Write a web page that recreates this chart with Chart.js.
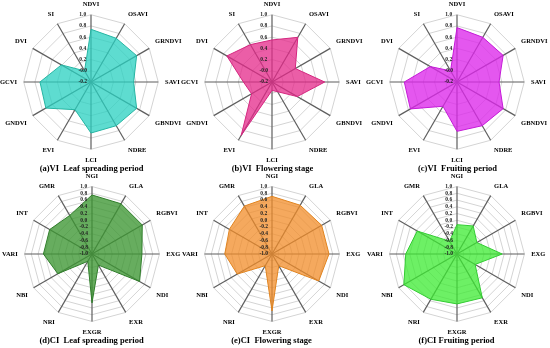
<!DOCTYPE html>
<html>
<head>
<meta charset="utf-8">
<script src="https://cdn.jsdelivr.net/npm/chart.js@4.4.0/dist/chart.umd.min.js"></script>
<style>
  html, body { margin: 0; padding: 0; background: #fff; }
  #wrap { position: relative; width: 550px; height: 348px; overflow: hidden; }
  .cell { position: absolute; width: 183px; height: 174px; }
</style>
</head>
<body>
<div id="wrap">
  <div class="cell" style="left:0px;top:0px"><canvas id="c1"></canvas></div>
  <div class="cell" style="left:181px;top:0px"><canvas id="c2"></canvas></div>
  <div class="cell" style="left:366px;top:0px"><canvas id="c3"></canvas></div>
  <div class="cell" style="left:0px;top:172px"><canvas id="c4"></canvas></div>
  <div class="cell" style="left:180px;top:172px"><canvas id="c5"></canvas></div>
  <div class="cell" style="left:365px;top:172px"><canvas id="c6"></canvas></div>
</div>
<script>
// axis names (clockwise from top)
const viLabels = ['NDVI', 'OSAVI', 'GRNDVI', 'SAVI', 'GBNDVI', 'NDRE', 'LCI', 'EVI', 'GNDVI', 'GCVI', 'DVI', 'SI'];
const ciLabels = ['NGI', 'GLA', 'RGBVI', 'EXG', 'NDI', 'EXR', 'EXGR', 'NRI', 'NBI', 'VARI', 'INT', 'GMR'];

// tick range
const viTickRange = [-0.2, 1.0];
const ciTickRange = [-1.0, 1.0];
const tickStep = 0.2;

// values
const viLeafSpreading = [0.74, 0.70, 0.74, 0.56, 0.74, 0.70, 0.71, 0.37, 0.73, 0.71, 0.41, 0.03];
const viFlowering     = [0.55, 0.72, 0.28, 0.74, 0.32, 0.00, -0.05, 0.90, 0.22, 0.31, 0.73, 0.57];
const viFruiting      = [0.77, 0.72, 0.75, 0.55, 0.75, 0.70, 0.68, 0.30, 0.76, 0.74, 0.35, 0.03];
const ciLeafSpreading = [0.75, 0.72, 0.72, 0.48, 0.63, -0.62, 0.45, -0.75, 0.17, 0.44, 0.45, 0.32];
const ciFlowering     = [0.71, 0.67, 0.70, 0.69, 0.60, -0.60, 0.69, -0.60, 0.19, 0.40, 0.46, 0.64];
const ciFruiting      = [-0.13, -0.04, -0.32, 0.34, -0.38, 0.50, 0.48, 0.55, 0.82, 0.52, 0.36, -0.56];

const serif = "'Times New Roman', 'Liberation Serif', serif";

// Bikin satu radar chart
function makeRadar(id, labels, values, range, title, border, fill) {
    const ctx = document.getElementById(id).getContext('2d');
    return new Chart(ctx, {
        type: 'radar',
        data: {
            labels: labels,
            datasets: [{
                data: values,
                borderColor: border,
                backgroundColor: fill,
                borderWidth: 1,
                pointRadius: 0,
                fill: 'start'
            }]
        },
        options: {
            responsive: false,
            animation: false,
            devicePixelRatio: 1,
            layout: { padding: 0 },
            plugins: {
                legend: { display: false },
                tooltip: { enabled: false },
                title: {
                    display: true,
                    position: 'bottom',
                    text: title,
                    color: '#000',
                    font: { family: serif, size: 8.5, weight: 'bold', lineHeight: 1.0 },
                    padding: { top: 0, bottom: 1 }
                }
            },
            scales: {
                r: {
                    min: range[0],
                    max: range[1],
                    ticks: {
                        stepSize: tickStep,
                        z: 1,
                        showLabelBackdrop: false,
                        backdropPadding: 0,
                        color: '#222',
                        font: { family: serif, size: 5.5, weight: 'bold', lineHeight: 1.0 },
                        callback: v => v.toFixed(1) + '\u2003\u2003\u2003'
                    },
                    grid: { color: '#d4d4d4', lineWidth: 1 },
                    angleLines: { color: '#5e5e5e', lineWidth: 1.2 },
                    pointLabels: {
                        color: '#000',
                        padding: 4,
                        font: { family: serif, size: 6.5, weight: 'bold' }
                    }
                }
            }
        }
    });
}

function sizeCanvas(id) {
    const c = document.getElementById(id);
    c.width = 183;
    c.height = 174;
    c.style.width = '183px';
    c.style.height = '174px';
}

['c1', 'c2', 'c3', 'c4', 'c5', 'c6'].forEach(sizeCanvas);

makeRadar('c1', viLabels, viLeafSpreading, viTickRange, '(a)VI  Leaf spreading period', '#26b5a3', 'rgba(40,208,192,0.75)');
makeRadar('c2', viLabels, viFlowering, viTickRange, '(b)VI  Flowering stage', '#d4267f', 'rgba(228,40,138,0.75)');
makeRadar('c3', viLabels, viFruiting, viTickRange, '(c)VI  Fruiting period', '#c51ad8', 'rgba(220,40,235,0.78)');
makeRadar('c4', ciLabels, ciLeafSpreading, ciTickRange, '(d)CI  Leaf spreading period', '#2f7d2a', 'rgba(60,150,50,0.78)');
makeRadar('c5', ciLabels, ciFlowering, ciTickRange, '(e)CI  Flowering stage', '#e08420', 'rgba(242,140,40,0.75)');
makeRadar('c6', ciLabels, ciFruiting, ciTickRange, '(f)CI Fruiting period', '#33cc33', 'rgba(60,235,50,0.75)');
</script>
</body>
</html>
